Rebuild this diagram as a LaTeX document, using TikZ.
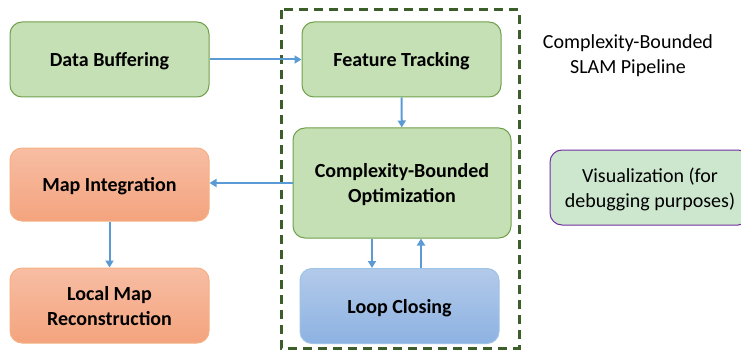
\documentclass[tikz,border=0pt]{standalone}
\usepackage{fontspec}
\setmainfont{Carlito}
\usetikzlibrary{arrows.meta}

\definecolor{stagefill}{HTML}{C5E0B4}
\definecolor{stageline}{HTML}{70A04C}
\definecolor{mapline}{HTML}{F4B183}
\definecolor{maptop}{HTML}{F7BDA3}
\definecolor{mapbot}{HTML}{F4A47E}
\definecolor{looptop}{HTML}{B3CAEA}
\definecolor{loopbot}{HTML}{8DB2E2}
\definecolor{loopline}{HTML}{9DC3E6}
\definecolor{visfill}{HTML}{CDE7CF}
\definecolor{visline}{HTML}{7030A0}
\definecolor{pipeline}{HTML}{3B5E2B}
\definecolor{flowblue}{HTML}{5B9BD5}

\begin{document}
\begin{tikzpicture}[x=1pt,y=-1pt,
	block/.style={rounded corners=12pt, minimum width=199pt, minimum height=75pt,
		align=center, text depth=0pt, line width=1pt, font=\fontsize{20}{25}\selectfont\bfseries},
	stagebox/.style={block, draw=stageline, fill=stagefill},
	mapbox/.style={block, draw=mapline, top color=maptop, bottom color=mapbot},
	loopbox/.style={block, draw=loopline, top color=looptop, bottom color=loopbot},
	flow/.style={draw=flowblue, line width=2pt, -{Triangle[length=7pt,width=8pt]}}]
	\useasboundingbox (0,0) rectangle (741,350);

	% pipeline border
	\draw[pipeline, line width=3pt, dash pattern=on 9pt off 6pt] (281,10) rectangle (519,348);

	\node[stagebox] (buffer) at (109.5,59.5) {Data Buffering};
	\node[stagebox] (track) at (401.5,59.5) {Feature Tracking};
	\node[stagebox, minimum width=218pt, minimum height=110pt] (opt) at (402,183) {Complexity-Bounded\\Optimization};
	\node[loopbox] (loop) at (399.5,306) {Loop Closing};
	\node[mapbox, minimum height=73pt] (map) at (109.5,184.5) {Map Integration};
	\node[mapbox] (local) at (109.5,305.5) {Local Map\\Reconstruction};

	\node[align=center, font=\fontsize{20}{25}\selectfont] (title) at (628,56) {Complexity-Bounded\\SLAM Pipeline};
	\node[block, font=\fontsize{20}{25}\selectfont, draw=visline, fill=visfill, minimum width=200pt] (vis) at (650,187.5) {Visualization (for\\debugging purposes)};

	% connectors
	\draw[flow] (buffer) -- (track);
	\draw[flow] (track) -- (opt);
	\draw[flow] (opt.west) -- (map.east |- opt.west);
	\draw[flow] (map) -- (local);
	\draw[flow] ([xshift=-30pt]opt.south) -- ([xshift=-30pt]opt.south |- loop.north);
	\draw[flow] ([xshift=19pt]opt.south |- loop.north) -- ([xshift=19pt]opt.south);
\end{tikzpicture}
\end{document}
